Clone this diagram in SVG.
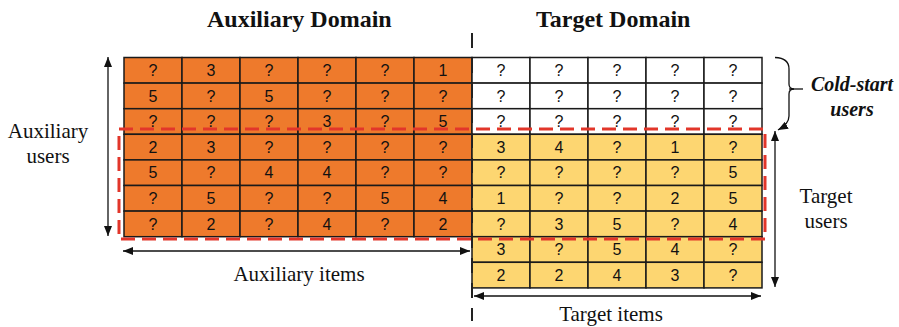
<svg xmlns="http://www.w3.org/2000/svg" width="899" height="327" viewBox="0 0 899 327">
<defs>
<style>
.hd{font-family:"Liberation Serif",serif;font-weight:bold;font-size:24px;fill:#111;}
.lb{font-family:"Liberation Serif",serif;font-size:21px;fill:#111;text-anchor:middle;}
.cs{font-family:"Liberation Serif",serif;font-weight:bold;font-style:italic;font-size:20px;fill:#111;text-anchor:middle;}
.c{font-family:"Liberation Sans","Noto Sans",sans-serif;font-size:16px;fill:#111;text-anchor:middle;}
.or{fill:#EE7A2C;stroke:#1a1a1a;stroke-width:1.5;}
.ye{fill:#FDD671;stroke:#1a1a1a;stroke-width:1.5;}
.wh{fill:#fff;stroke:#1a1a1a;stroke-width:1.5;}
.ar{fill:none;stroke:#111;stroke-width:1.3;}
</style>
<marker id="ah" viewBox="0 0 10 8" refX="10" refY="4" markerWidth="10" markerHeight="8" markerUnits="userSpaceOnUse" orient="auto-start-reverse">
<path d="M0,0 L10,4 L0,8 Z" fill="#111"/>
</marker>
</defs>
<rect width="899" height="327" fill="#fff"/>

<g id="title-aux"><text class="hd" x="207" y="27">Auxiliary Domain</text></g>
<g id="title-target"><text class="hd" x="536" y="27">Target Domain</text></g>

<g id="aux-matrix">
<rect class="or" x="124" y="57.5" width="58" height="25.6"/><rect class="or" x="182" y="57.5" width="58" height="25.6"/><rect class="or" x="240" y="57.5" width="58" height="25.6"/><rect class="or" x="298" y="57.5" width="58" height="25.6"/><rect class="or" x="356" y="57.5" width="58" height="25.6"/><rect class="or" x="414" y="57.5" width="58" height="25.6"/>
<rect class="or" x="124" y="83.1" width="58" height="25.6"/><rect class="or" x="182" y="83.1" width="58" height="25.6"/><rect class="or" x="240" y="83.1" width="58" height="25.6"/><rect class="or" x="298" y="83.1" width="58" height="25.6"/><rect class="or" x="356" y="83.1" width="58" height="25.6"/><rect class="or" x="414" y="83.1" width="58" height="25.6"/>
<rect class="or" x="124" y="108.7" width="58" height="25.6"/><rect class="or" x="182" y="108.7" width="58" height="25.6"/><rect class="or" x="240" y="108.7" width="58" height="25.6"/><rect class="or" x="298" y="108.7" width="58" height="25.6"/><rect class="or" x="356" y="108.7" width="58" height="25.6"/><rect class="or" x="414" y="108.7" width="58" height="25.6"/>
<rect class="or" x="124" y="134.3" width="58" height="25.6"/><rect class="or" x="182" y="134.3" width="58" height="25.6"/><rect class="or" x="240" y="134.3" width="58" height="25.6"/><rect class="or" x="298" y="134.3" width="58" height="25.6"/><rect class="or" x="356" y="134.3" width="58" height="25.6"/><rect class="or" x="414" y="134.3" width="58" height="25.6"/>
<rect class="or" x="124" y="159.9" width="58" height="25.6"/><rect class="or" x="182" y="159.9" width="58" height="25.6"/><rect class="or" x="240" y="159.9" width="58" height="25.6"/><rect class="or" x="298" y="159.9" width="58" height="25.6"/><rect class="or" x="356" y="159.9" width="58" height="25.6"/><rect class="or" x="414" y="159.9" width="58" height="25.6"/>
<rect class="or" x="124" y="185.5" width="58" height="25.6"/><rect class="or" x="182" y="185.5" width="58" height="25.6"/><rect class="or" x="240" y="185.5" width="58" height="25.6"/><rect class="or" x="298" y="185.5" width="58" height="25.6"/><rect class="or" x="356" y="185.5" width="58" height="25.6"/><rect class="or" x="414" y="185.5" width="58" height="25.6"/>
<rect class="or" x="124" y="211.1" width="58" height="25.6"/><rect class="or" x="182" y="211.1" width="58" height="25.6"/><rect class="or" x="240" y="211.1" width="58" height="25.6"/><rect class="or" x="298" y="211.1" width="58" height="25.6"/><rect class="or" x="356" y="211.1" width="58" height="25.6"/><rect class="or" x="414" y="211.1" width="58" height="25.6"/>
<text class="c" y="76"><tspan x="153">?</tspan><tspan x="211">3</tspan><tspan x="269">?</tspan><tspan x="327">?</tspan><tspan x="385">?</tspan><tspan x="443">1</tspan></text>
<text class="c" y="101.6"><tspan x="153">5</tspan><tspan x="211">?</tspan><tspan x="269">5</tspan><tspan x="327">?</tspan><tspan x="385">?</tspan><tspan x="443">?</tspan></text>
<text class="c" y="127.2"><tspan x="153">?</tspan><tspan x="211">?</tspan><tspan x="269">?</tspan><tspan x="327">3</tspan><tspan x="385">?</tspan><tspan x="443">5</tspan></text>
<text class="c" y="152.8"><tspan x="153">2</tspan><tspan x="211">3</tspan><tspan x="269">?</tspan><tspan x="327">?</tspan><tspan x="385">?</tspan><tspan x="443">?</tspan></text>
<text class="c" y="178.4"><tspan x="153">5</tspan><tspan x="211">?</tspan><tspan x="269">4</tspan><tspan x="327">4</tspan><tspan x="385">?</tspan><tspan x="443">?</tspan></text>
<text class="c" y="204"><tspan x="153">?</tspan><tspan x="211">5</tspan><tspan x="269">?</tspan><tspan x="327">?</tspan><tspan x="385">5</tspan><tspan x="443">4</tspan></text>
<text class="c" y="229.6"><tspan x="153">?</tspan><tspan x="211">2</tspan><tspan x="269">?</tspan><tspan x="327">4</tspan><tspan x="385">?</tspan><tspan x="443">2</tspan></text>
</g>

<g id="target-matrix">
<rect class="wh" x="472" y="57.5" width="58" height="25.6"/><rect class="wh" x="530" y="57.5" width="58" height="25.6"/><rect class="wh" x="588" y="57.5" width="58" height="25.6"/><rect class="wh" x="646" y="57.5" width="58" height="25.6"/><rect class="wh" x="704" y="57.5" width="58" height="25.6"/>
<rect class="wh" x="472" y="83.1" width="58" height="25.6"/><rect class="wh" x="530" y="83.1" width="58" height="25.6"/><rect class="wh" x="588" y="83.1" width="58" height="25.6"/><rect class="wh" x="646" y="83.1" width="58" height="25.6"/><rect class="wh" x="704" y="83.1" width="58" height="25.6"/>
<rect class="wh" x="472" y="108.7" width="58" height="25.6"/><rect class="wh" x="530" y="108.7" width="58" height="25.6"/><rect class="wh" x="588" y="108.7" width="58" height="25.6"/><rect class="wh" x="646" y="108.7" width="58" height="25.6"/><rect class="wh" x="704" y="108.7" width="58" height="25.6"/>
<rect class="ye" x="472" y="134.3" width="58" height="25.6"/><rect class="ye" x="530" y="134.3" width="58" height="25.6"/><rect class="ye" x="588" y="134.3" width="58" height="25.6"/><rect class="ye" x="646" y="134.3" width="58" height="25.6"/><rect class="ye" x="704" y="134.3" width="58" height="25.6"/>
<rect class="ye" x="472" y="159.9" width="58" height="25.6"/><rect class="ye" x="530" y="159.9" width="58" height="25.6"/><rect class="ye" x="588" y="159.9" width="58" height="25.6"/><rect class="ye" x="646" y="159.9" width="58" height="25.6"/><rect class="ye" x="704" y="159.9" width="58" height="25.6"/>
<rect class="ye" x="472" y="185.5" width="58" height="25.6"/><rect class="ye" x="530" y="185.5" width="58" height="25.6"/><rect class="ye" x="588" y="185.5" width="58" height="25.6"/><rect class="ye" x="646" y="185.5" width="58" height="25.6"/><rect class="ye" x="704" y="185.5" width="58" height="25.6"/>
<rect class="ye" x="472" y="211.1" width="58" height="25.6"/><rect class="ye" x="530" y="211.1" width="58" height="25.6"/><rect class="ye" x="588" y="211.1" width="58" height="25.6"/><rect class="ye" x="646" y="211.1" width="58" height="25.6"/><rect class="ye" x="704" y="211.1" width="58" height="25.6"/>
<rect class="ye" x="472" y="236.7" width="58" height="25.6"/><rect class="ye" x="530" y="236.7" width="58" height="25.6"/><rect class="ye" x="588" y="236.7" width="58" height="25.6"/><rect class="ye" x="646" y="236.7" width="58" height="25.6"/><rect class="ye" x="704" y="236.7" width="58" height="25.6"/>
<rect class="ye" x="472" y="262.3" width="58" height="25.6"/><rect class="ye" x="530" y="262.3" width="58" height="25.6"/><rect class="ye" x="588" y="262.3" width="58" height="25.6"/><rect class="ye" x="646" y="262.3" width="58" height="25.6"/><rect class="ye" x="704" y="262.3" width="58" height="25.6"/>
<text class="c" y="76"><tspan x="501">?</tspan><tspan x="559">?</tspan><tspan x="617">?</tspan><tspan x="675">?</tspan><tspan x="733">?</tspan></text>
<text class="c" y="101.6"><tspan x="501">?</tspan><tspan x="559">?</tspan><tspan x="617">?</tspan><tspan x="675">?</tspan><tspan x="733">?</tspan></text>
<text class="c" y="127.2"><tspan x="501">?</tspan><tspan x="559">?</tspan><tspan x="617">?</tspan><tspan x="675">?</tspan><tspan x="733">?</tspan></text>
<text class="c" y="152.8"><tspan x="501">3</tspan><tspan x="559">4</tspan><tspan x="617">?</tspan><tspan x="675">1</tspan><tspan x="733">?</tspan></text>
<text class="c" y="178.4"><tspan x="501">?</tspan><tspan x="559">?</tspan><tspan x="617">?</tspan><tspan x="675">?</tspan><tspan x="733">5</tspan></text>
<text class="c" y="204"><tspan x="501">1</tspan><tspan x="559">?</tspan><tspan x="617">?</tspan><tspan x="675">2</tspan><tspan x="733">5</tspan></text>
<text class="c" y="229.6"><tspan x="501">?</tspan><tspan x="559">3</tspan><tspan x="617">5</tspan><tspan x="675">?</tspan><tspan x="733">4</tspan></text>
<text class="c" y="255.2"><tspan x="501">3</tspan><tspan x="559">?</tspan><tspan x="617">5</tspan><tspan x="675">4</tspan><tspan x="733">?</tspan></text>
<text class="c" y="280.8"><tspan x="501">2</tspan><tspan x="559">2</tspan><tspan x="617">4</tspan><tspan x="675">3</tspan><tspan x="733">?</tspan></text>
</g>

<g id="divider"><line x1="472" y1="33" x2="472" y2="321" stroke="#222" stroke-width="2" stroke-dasharray="15 10"/></g>

<g id="overlap-box"><rect x="119" y="129" width="646" height="110" fill="none" stroke="#E2362A" stroke-width="3" stroke-dasharray="14 7"/></g>

<g id="connectors">
<line class="ar" x1="108" y1="57" x2="108" y2="236" marker-start="url(#ah)" marker-end="url(#ah)"/>
<line class="ar" x1="123" y1="251" x2="470" y2="251" marker-start="url(#ah)" marker-end="url(#ah)"/>
<line class="ar" x1="474" y1="296" x2="761" y2="296" marker-start="url(#ah)" marker-end="url(#ah)"/>
<line class="ar" x1="775" y1="131" x2="775" y2="287" marker-start="url(#ah)" marker-end="url(#ah)"/>
<path class="ar" d="M775,57.5 Q789,58 789,69 L789,84 Q789,89 794,89 M794,89 Q789,89 789,94 L789,116 Q789,124 778,130" marker-end="url(#ah)"/>
<line class="ar" x1="789" y1="89" x2="803" y2="89" stroke-width="2"/>
</g>

<g id="label-aux-users"><text class="lb" x="48" y="138">Auxiliary</text><text class="lb" x="48" y="163">users</text></g>
<g id="label-aux-items"><text class="lb" x="299" y="281">Auxiliary items</text></g>
<g id="label-target-items"><text class="lb" x="611" y="321">Target items</text></g>
<g id="label-target-users"><text class="lb" x="826" y="203">Target</text><text class="lb" x="826" y="228">users</text></g>
<g id="label-cold-start"><text class="cs" x="852" y="91">Cold-start</text><text class="cs" x="852" y="116">users</text></g>
</svg>
